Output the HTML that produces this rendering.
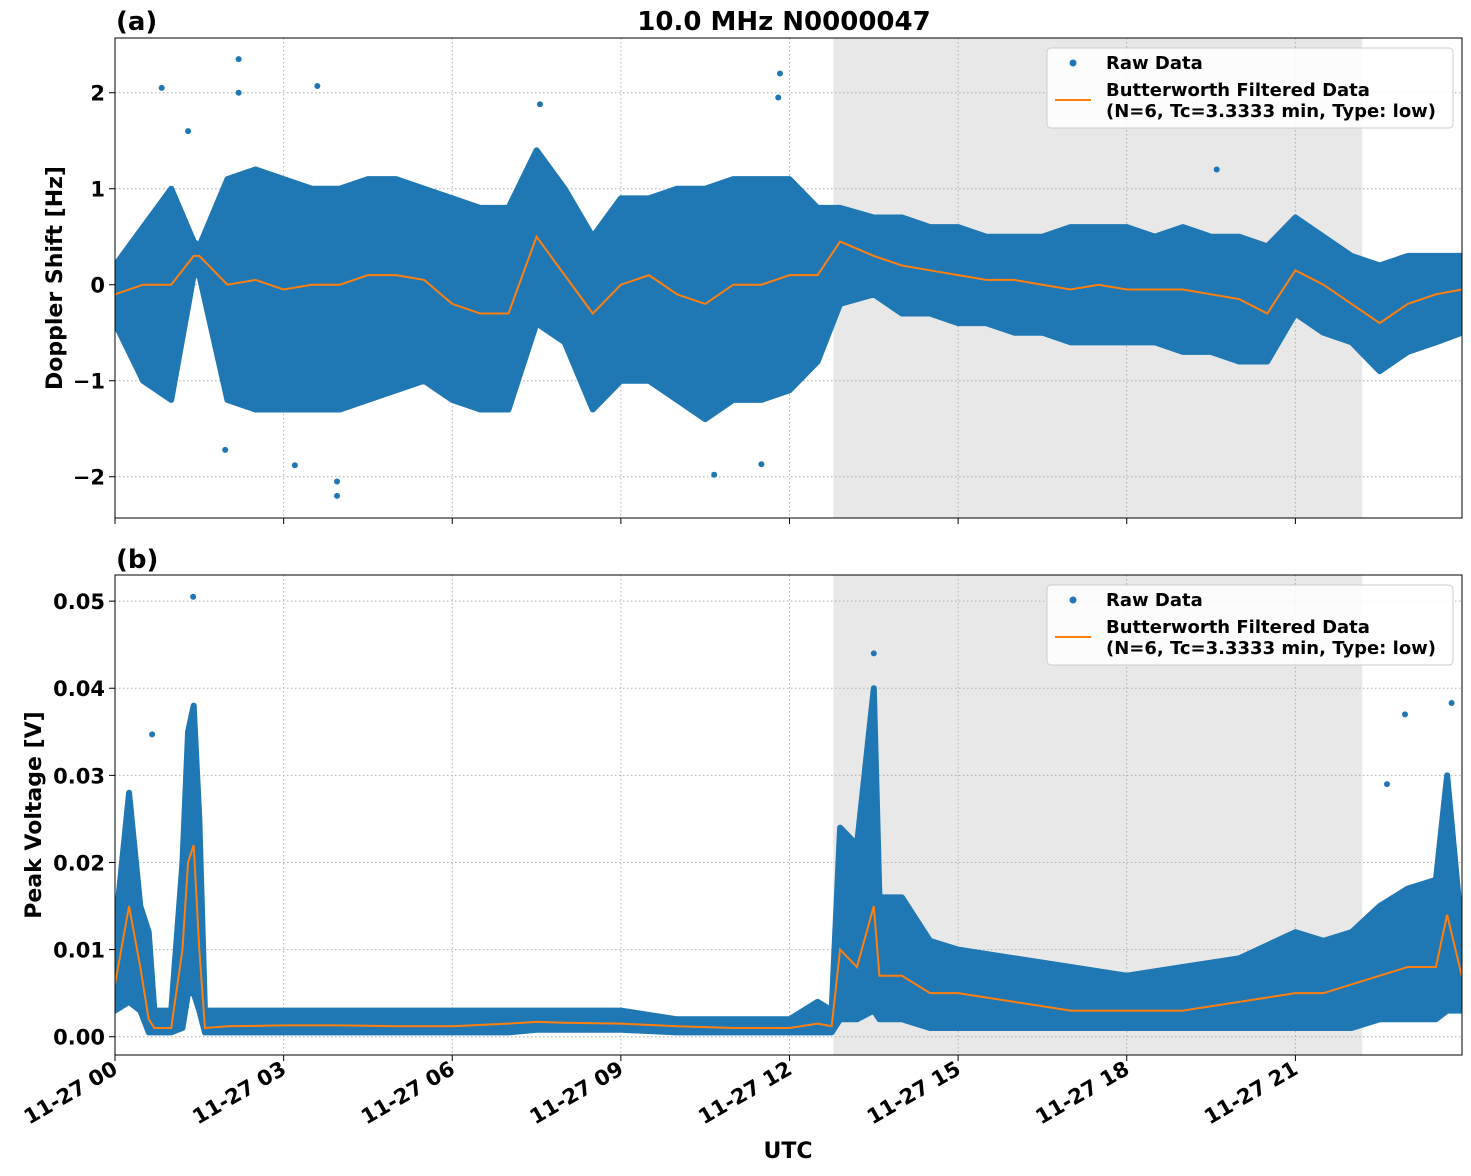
<!DOCTYPE html>
<html><head><meta charset="utf-8"><style>
body{margin:0;background:#fff;font-family:"DejaVu Sans",sans-serif}
svg text{font-family:"DejaVu Sans","Liberation Sans",sans-serif;font-weight:bold}
</style></head><body>
<svg id="c" width="1471" height="1172" xmlns="http://www.w3.org/2000/svg"></svg>
<script>
// ---- data ----
const topTimes=[0,0.5,1,1.4,1.5,2,2.5,3,3.5,4,4.5,5,5.5,6,6.5,7,7.5,8,8.5,9,9.5,10,10.5,11,11.5,12,12.5,12.9,13.5,14,14.5,15,15.5,16,16.5,17,17.5,18,18.5,19,19.5,20,20.5,21,21.5,22,22.5,23,23.5,23.96];
const topUpper=[0.2,0.6,1.0,0.45,0.4,1.1,1.2,1.1,1.0,1.0,1.1,1.1,1.0,0.9,0.8,0.8,1.4,1.0,0.5,0.9,0.9,1.0,1.0,1.1,1.1,1.1,0.8,0.8,0.7,0.7,0.6,0.6,0.5,0.5,0.5,0.6,0.6,0.6,0.5,0.6,0.5,0.5,0.4,0.7,0.5,0.3,0.2,0.3,0.3,0.3];
const topLower=[-0.4,-1.0,-1.2,0.1,0.1,-1.2,-1.3,-1.3,-1.3,-1.3,-1.2,-1.1,-1.0,-1.2,-1.3,-1.3,-0.4,-0.6,-1.3,-1.0,-1.0,-1.2,-1.4,-1.2,-1.2,-1.1,-0.8,-0.2,-0.1,-0.3,-0.3,-0.4,-0.4,-0.5,-0.5,-0.6,-0.6,-0.6,-0.6,-0.7,-0.7,-0.8,-0.8,-0.3,-0.5,-0.6,-0.9,-0.7,-0.6,-0.5];
const topMean=[-0.1,0.0,0.0,0.3,0.3,0.0,0.05,-0.05,0.0,0.0,0.1,0.1,0.05,-0.2,-0.3,-0.3,0.5,0.1,-0.3,0.0,0.1,-0.1,-0.2,0.0,0.0,0.1,0.1,0.45,0.3,0.2,0.15,0.1,0.05,0.05,0.0,-0.05,0.0,-0.05,-0.05,-0.05,-0.1,-0.15,-0.3,0.15,0.0,-0.2,-0.4,-0.2,-0.1,-0.05];
const topOutT=[0.83,2.2,2.2,3.6,1.3,11.83,11.8,3.95,3.95,3.2,10.66,11.5,1.96,7.56,19.6];
const topOutV=[2.05,2.35,2.0,2.07,1.6,2.2,1.95,-2.2,-2.05,-1.88,-1.98,-1.87,-1.72,1.88,1.2];
const botTimes=[0,0.25,0.45,0.6,0.7,1.0,1.2,1.3,1.4,1.5,1.6,2,3,4,5,6,7,7.5,8,9,10,11,12,12.5,12.75,12.9,13.2,13.5,13.6,14,14.5,15,16,17,18,19,20,21,21.5,22,22.5,23,23.5,23.7,23.96];
const botUpper=[.012,.028,.015,.012,.003,.003,.020,.035,.038,.025,.003,.003,.003,.003,.003,.003,.003,.003,.003,.003,.002,.002,.002,.004,.003,.024,.022,.040,.016,.016,.011,.010,.009,.008,.007,.008,.009,.012,.011,.012,.015,.017,.018,.030,.012];
const botLower=[.003,.004,.003,.0005,.0005,.0005,.001,.005,.005,.003,.0005,.0005,.0005,.0005,.0005,.0005,.0005,.0008,.0008,.0008,.0005,.0005,.0005,.0005,.0005,.002,.002,.003,.002,.002,.001,.001,.001,.001,.001,.001,.001,.001,.001,.001,.002,.002,.002,.003,.003];
const botMean=[.006,.015,.008,.002,.001,.001,.01,.02,.022,.010,.001,.0012,.0013,.0013,.0012,.0012,.0015,.0017,.0016,.0015,.0012,.0010,.0010,.0015,.0012,.010,.008,.015,.007,.007,.005,.005,.004,.003,.003,.003,.004,.005,.005,.006,.007,.008,.008,.014,.007];
const botOutT=[0.66,1.39,13.5,23.78,22.95,22.63];
const botOutV=[0.0347,0.0505,0.044,0.0383,0.037,0.029];
const xTickLabels=["11-27 00","11-27 03","11-27 06","11-27 09","11-27 12","11-27 15","11-27 18","11-27 21"];
const topYTicks=[-2,-1,0,1,2];
const botYTicks=[0,0.01,0.02,0.03,0.04,0.05];
const shade=[12.78,22.19];
// ---- drawing ----
const NS="http://www.w3.org/2000/svg",svg=document.getElementById('c');
function mk(t,a,p){const e=document.createElementNS(NS,t);for(const k in a)e.setAttribute(k,a[k]);(p||svg).appendChild(e);return e;}
const X0=115,X1=1462;const xs=t=>X0+t*(1349/24);
const defs=mk('defs',{});
function panel(y0,y1,vmin,vmax,ticks,fmt,times,up,lo,mean,oT,oV,name,cid){
  const ys=v=>y1-(v-vmin)/(vmax-vmin)*(y1-y0);
  const cp=mk('clipPath',{id:cid},defs);mk('rect',{x:X0,y:y0,width:X1-X0,height:y1-y0},cp);
  const g=mk('g',{});
  
  
  const sh=mk('rect',{x:xs(shade[0]),y:y0,width:xs(shade[1])-xs(shade[0]),height:y1-y0,fill:'#e8e8e8'},g);
  
  
  xTickLabels.forEach((l,i)=>{const x=xs(i*3);mk('line',{x1:x,x2:x,y1:y0,y2:y1,stroke:'#b0b0b0','stroke-dasharray':'1.5,2.5'},g);mk('line',{x1:x,x2:x,y1:y1,y2:y1+6,stroke:'#000'},g);});
  ticks.forEach(v=>{const y=ys(v);mk('line',{x1:X0,x2:X1,y1:y,y2:y,stroke:'#b0b0b0','stroke-dasharray':'1.5,2.5'},g);mk('line',{x1:X0-6,x2:X0,y1:y,y2:y,stroke:'#000'},g);
    const t=mk('text',{x:X0-10,y:y+8,'text-anchor':'end','font-size':21},g);t.textContent=fmt(v);
    
    });
  const cg=mk('g',{'clip-path':`url(#${cid})`},g);
  let d='';times.forEach((t,i)=>d+=(i?'L':'M')+xs(t)+','+ys(up[i]));
  for(let i=times.length-1;i>=0;i--)d+='L'+xs(times[i])+','+ys(lo[i]);
  const band=mk('path',{d:d+'Z',fill:'#1f77b4',stroke:'#1f77b4','stroke-width':6,'stroke-linejoin':'round'},cg);
  
  
  oT.forEach((t,i)=>{const c=mk('circle',{cx:xs(t),cy:ys(oV[i]),r:3,fill:'#1f77b4'},cg);
    
    });
  let p='';times.forEach((t,i)=>p+=(i?'L':'M')+xs(t)+','+ys(mean[i]));
  const ln=mk('path',{d:p,fill:'none',stroke:'#ff7f0e','stroke-width':2},cg);
  
  
  mk('rect',{x:X0,y:y0,width:X1-X0,height:y1-y0,fill:'none',stroke:'#000','stroke-width':1},g);
  const lg=mk('g',{},g);
  
  
  mk('rect',{x:1047,y:y0+10,width:406,height:80,rx:4,fill:'#fff','fill-opacity':0.85,stroke:'#ccc'},lg);
  mk('circle',{cx:1073,cy:y0+25,r:3.5,fill:'#1f77b4'},lg);
  let t=mk('text',{x:1106,y:y0+31,'font-size':18},lg);t.textContent='Raw Data';
  mk('line',{x1:1055,x2:1091,y1:y0+62,y2:y0+62,stroke:'#ff7f0e','stroke-width':2},lg);
  t=mk('text',{x:1106,y:y0+58,'font-size':18},lg);t.textContent='Butterworth Filtered Data';
  t=mk('text',{x:1106,y:y0+79,'font-size':18},lg);t.textContent='(N=6, Tc=3.3333 min, Type: low)';
}
panel(38,518,-2.43,2.57,topYTicks,v=>v<0?'\u2212'+(-v):''+v,topTimes,topUpper,topLower,topMean,topOutT,topOutV,'panel-a','ca');
panel(575,1055,-0.0021,0.0530,botYTicks,v=>v.toFixed(2),botTimes,botUpper,botLower,botMean,botOutT,botOutV,'panel-b','cb');
xTickLabels.forEach((l,i)=>{const x=xs(i*3);const t=mk('text',{x:x+4,y:1073,'text-anchor':'end','font-size':21,transform:`rotate(-30 ${x+4} 1073)`});t.textContent=l;
  
  });
function txt(s,a,name){const t=mk('text',a);t.textContent=s;}
txt('10.0 MHz N0000047',{x:784,y:30,'text-anchor':'middle','font-size':26},'chart-title');
txt('(a)',{x:116,y:30,'font-size':26},'panel-a-label');
txt('(b)',{x:116,y:568,'font-size':26},'panel-b-label');
txt('UTC',{x:788,y:1158,'text-anchor':'middle','font-size':22},'x-axis-title');
txt('Doppler Shift [Hz]',{x:62,y:278,'text-anchor':'middle','font-size':22,transform:'rotate(-90 62 278)'},'y-axis-title-a');
txt('Peak Voltage [V]',{x:41,y:815,'text-anchor':'middle','font-size':22,transform:'rotate(-90 41 815)'},'y-axis-title-b');
</script>
</body></html>
